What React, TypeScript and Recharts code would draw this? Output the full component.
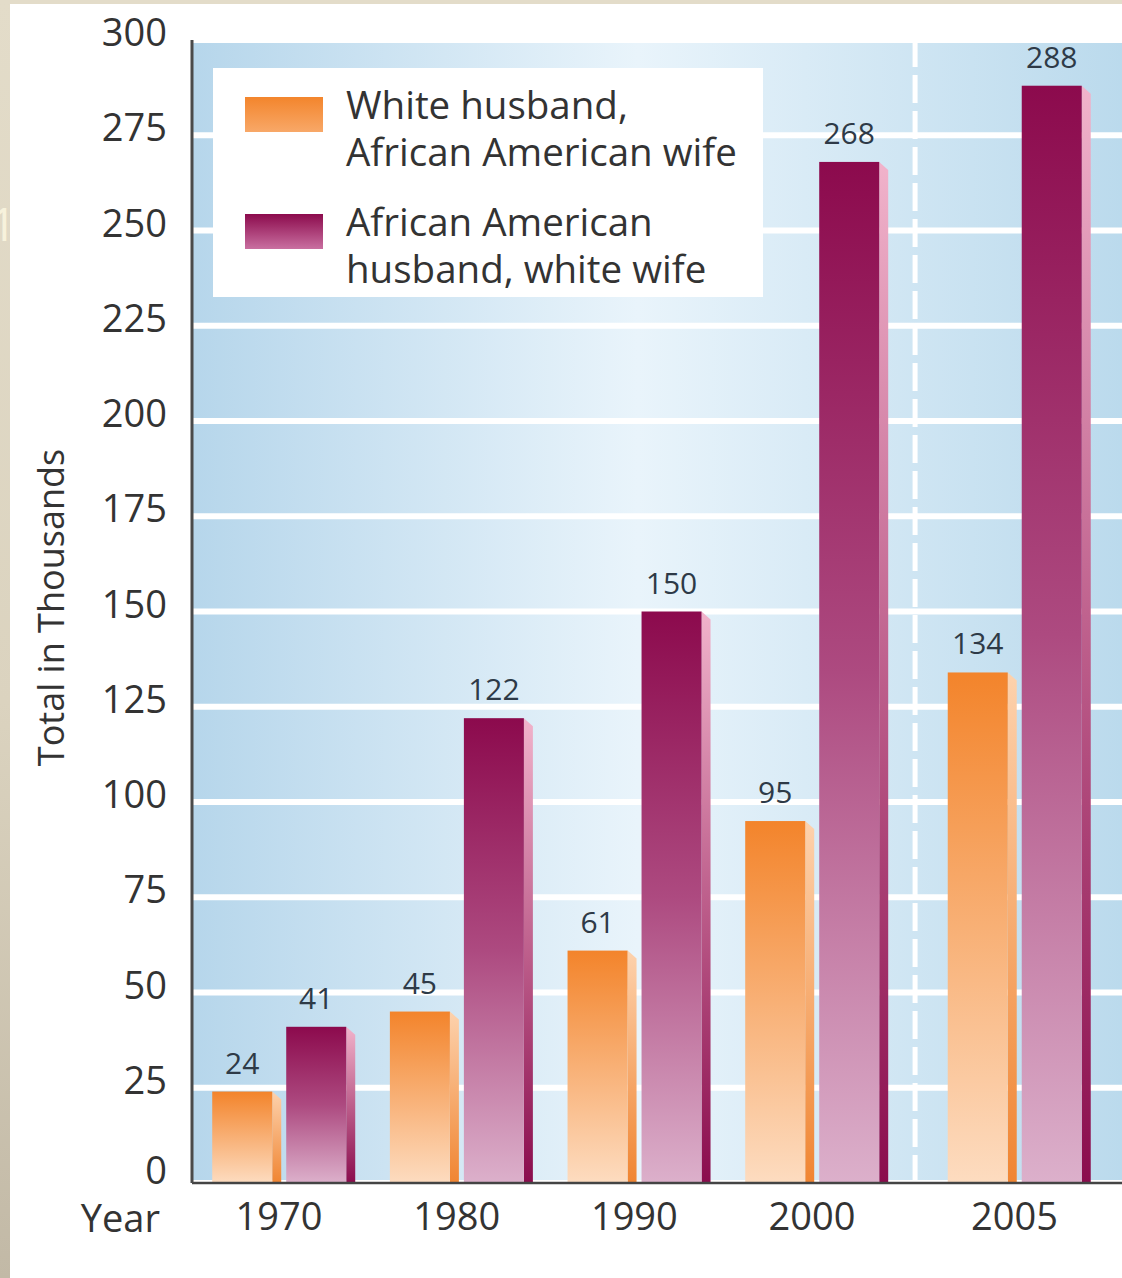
import React from 'react';
import { BarChart, Bar, XAxis, YAxis, CartesianGrid, Legend, LabelList, ReferenceLine, Label } from 'recharts';

// ---- data ----
const years = ['1970', '1980', '1990', '2000', '2005'];
// category slots along the x axis (2005 sits a bit further right, after the break line)
const slots = [0, 1, 2, 3, 4.14];
const breakSlot = 3.58;
const whiteHusbandAAWife = [24, 45, 61, 95, 134];
const aaHusbandWhiteWife = [41, 122, 150, 268, 288];
const yTicks = [0, 25, 50, 75, 100, 125, 150, 175, 200, 225, 250, 275, 300];
const seriesNames = ['White husband,\nAfrican American wife', 'African American\nhusband, white wife'];

const data = years.map((year, i) => ({
  year,
  slot: slots[i],
  wh: whiteHusbandAAWife[i],
  ah: aaHusbandWhiteWife[i],
}));

const FONT = "'Open Sans', 'Noto Sans', sans-serif";
const TEXT = '#333333';

const makeShape = (frontId: string, sideId: string) => (props: any) => {
  const { x, y, width, height } = props;
  if (!height || height <= 0) return null;
  const s = 9;
  const b = y + height;
  return (
    <g>
      <polygon
        points={`${x + width},${y} ${x + width + s},${y + 8} ${x + width + s},${b} ${x + width},${b}`}
        fill={`url(#${sideId})`}
      />
      <rect x={x} y={y} width={width} height={height} fill={`url(#${frontId})`} />
    </g>
  );
};

const orangeShape = makeShape('orFront', 'orSide');
const purpleShape = makeShape('puFront', 'puSide');

const swatches = [
  'linear-gradient(180deg, #f3852c 0%, #f8a868 100%)',
  'linear-gradient(180deg, #8c0b4d 0%, #c96fa0 100%)',
];

const renderLegend = (props: any) => {
  const payload = [...(props.payload || [])].sort(
    (a: any, b: any) => seriesNames.indexOf(a.value) - seriesNames.indexOf(b.value)
  );
  return (
    <div
      style={{
        width: 550,
        height: 229,
        background: '#ffffff',
        boxSizing: 'border-box',
        paddingTop: 13,
        paddingLeft: 32,
        fontFamily: FONT,
      }}
    >
      {payload.map((entry: any, i: number) => {
        const si = seriesNames.indexOf(entry.value);
        return (
          <div key={i} style={{ display: 'flex', alignItems: 'flex-start', marginBottom: i === 0 ? 23 : 0 }}>
            <div style={{ width: 78, height: 35, marginTop: 16, marginRight: 23, background: swatches[si] }} />
            <div style={{ whiteSpace: 'pre-line', fontSize: 38.5, lineHeight: '47px', color: TEXT }}>{entry.value}</div>
          </div>
        );
      })}
    </div>
  );
};

const YTick = (props: any) => {
  const { x, y, payload } = props;
  const dy = payload.value === 0 ? -14 : -9;
  return (
    <text x={x} y={y + dy} textAnchor="end" dominantBaseline="central" fontSize={38} fill={TEXT} fontFamily={FONT}>
      {payload.value}
    </text>
  );
};

const XTick = (props: any) => {
  const { x, y, payload } = props;
  const idx = slots.indexOf(payload.value);
  return (
    <text x={x} y={y + 32} textAnchor="middle" dominantBaseline="central" fontSize={38} fill={TEXT} fontFamily={FONT}>
      {idx >= 0 ? years[idx] : ''}
    </text>
  );
};

const YearLabel = (props: any) => {
  const vb = props.viewBox || {};
  return (
    <text x={vb.x - 32} y={vb.y + 34} textAnchor="end" dominantBaseline="central" fontSize={38} fill={TEXT} fontFamily={FONT}>
      Year
    </text>
  );
};

const YTitle = (props: any) => {
  const vb = props.viewBox || {};
  const cx = vb.x + 38;
  const cy = vb.y + vb.height / 2 - 4;
  return (
    <text
      x={cx}
      y={cy}
      transform={`rotate(-90 ${cx} ${cy})`}
      textAnchor="middle"
      dominantBaseline="central"
      fontSize={36}
      fill={TEXT}
      fontFamily={FONT}
    >
      Total in Thousands
    </text>
  );
};

export default function App() {
  return (
    <div
      style={{
        position: 'absolute',
        left: 0,
        top: 0,
        width: 1122,
        height: 1278,
        overflow: 'hidden',
        background: 'linear-gradient(180deg, #e3dcc9 0%, #dbd3bf 55%, #c2b9a6 100%)',
        fontFamily: FONT,
      }}
    >
      <span
        style={{
          position: 'absolute',
          left: -10,
          top: 200,
          fontSize: 46,
          lineHeight: '46px',
          color: '#f7f2dc',
          fontFamily: FONT,
        }}
      >
        1
      </span>
      <div style={{ position: 'absolute', left: 10, top: 4, right: 0, bottom: 0, background: '#ffffff' }} />
      <div style={{ position: 'absolute', left: 0, top: 0 }}>
        <BarChart
          width={1140}
          height={1278}
          data={data}
          margin={{ top: 40, right: 0, bottom: 25, left: 12 }}
          barGap={14}
        >
          <defs>
            <linearGradient id="bgGrad" x1="0" y1="0" x2="1" y2="0">
              <stop offset="0%" stopColor="#b6d6eb" />
              <stop offset="47%" stopColor="#e9f4fb" />
              <stop offset="100%" stopColor="#b9d9ec" />
            </linearGradient>
            <linearGradient id="orFront" x1="0" y1="0" x2="0" y2="1">
              <stop offset="0%" stopColor="#f3842b" />
              <stop offset="100%" stopColor="#fddcc0" />
            </linearGradient>
            <linearGradient id="orSide" x1="0" y1="0" x2="0" y2="1">
              <stop offset="0%" stopColor="#fdd2ad" />
              <stop offset="100%" stopColor="#f08532" />
            </linearGradient>
            <linearGradient id="puFront" x1="0" y1="0" x2="0" y2="1">
              <stop offset="0%" stopColor="#8c0a4d" />
              <stop offset="50%" stopColor="#ad4a80" />
              <stop offset="100%" stopColor="#dcb0cb" />
            </linearGradient>
            <linearGradient id="puSide" x1="0" y1="0" x2="0" y2="1">
              <stop offset="0%" stopColor="#f1b3cb" />
              <stop offset="100%" stopColor="#8a0c4d" />
            </linearGradient>
          </defs>
          <CartesianGrid vertical={false} stroke="#ffffff" strokeWidth={6} fill="url(#bgGrad)" fillOpacity={1} />
          <XAxis
            dataKey="slot"
            type="number"
            domain={[-0.49, 4.846]}
            allowDataOverflow
            ticks={slots}
            interval={0}
            height={70}
            tickLine={false}
            tickSize={0}
            tickMargin={0}
            tick={<XTick />}
            axisLine={{ stroke: '#444444', strokeWidth: 2.5 }}
          >
            <Label content={<YearLabel />} />
          </XAxis>
          <YAxis
            type="number"
            domain={[0, 300]}
            ticks={yTicks}
            interval={0}
            width={180}
            tickLine={false}
            tickSize={0}
            tickMargin={25}
            tick={<YTick />}
            axisLine={{ stroke: '#4a4a4a', strokeWidth: 3 }}
          >
            <Label content={<YTitle />} />
          </YAxis>
          <ReferenceLine x={breakSlot} stroke="#ffffff" strokeWidth={5} strokeDasharray="28 8" />
          <Legend
            layout="vertical"
            align="center"
            verticalAlign="middle"
            content={renderLegend}
            wrapperStyle={{ position: 'absolute', left: 213, top: 68, width: 550, height: 229 }}
          />
          <Bar dataKey="wh" name={seriesNames[0]} barSize={60} fill="#f3852c" shape={orangeShape} isAnimationActive={false}>
            <LabelList dataKey="wh" position="top" offset={18} fontSize={30} fill="#2e3a47" fontFamily={FONT} />
          </Bar>
          <Bar dataKey="ah" name={seriesNames[1]} barSize={60} fill="#8c0b4d" shape={purpleShape} isAnimationActive={false}>
            <LabelList dataKey="ah" position="top" offset={18} fontSize={30} fill="#2e3a47" fontFamily={FONT} />
          </Bar>
        </BarChart>
      </div>
    </div>
  );
}
